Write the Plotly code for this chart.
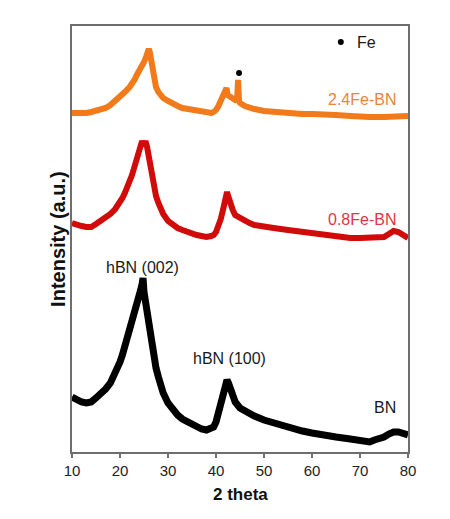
import plotly.graph_objects as go

# 2 theta positions and intensities (a.u., stacked offsets)
x_fe24 = [10, 11, 12, 13, 14, 15, 16, 17, 18, 19, 20, 21, 22, 22.5, 23, 23.5, 24, 24.5, 25, 25.5, 25.8, 26, 26.2,
          26.5, 26.8, 27, 27.5, 28, 29, 30, 31, 32, 33, 34, 35, 36, 37, 38, 39, 39.5, 40, 40.5, 41, 41.5, 42, 42.2,
          42.4, 43, 43.5, 44, 44.4, 44.6, 44.8, 45, 46, 47, 48, 50, 52, 55, 58, 60, 62, 65, 68, 70, 72, 75, 77, 78, 80]
y_fe24 = [339, 339, 338, 339, 340, 341, 342, 344, 347, 351, 356, 360, 365, 368, 372, 377, 381, 386, 390, 396, 401, 403, 400,
          390, 380, 373, 365, 360, 354, 351, 348, 346, 344, 343, 342, 341, 340, 339, 339, 340, 342, 346, 351, 354, 359, 364,
          357, 355, 353, 352, 353, 372, 351, 349, 346, 344, 343, 341, 340, 339, 338, 338, 337, 337, 336, 335, 335, 335, 336, 335, 336]

x_fe08 = [10, 11, 12, 13, 14, 15, 16, 17, 18, 19, 20, 20.5, 21, 21.5, 22, 22.5, 23, 23.5, 24, 24.3, 24.6, 25, 25.3,
          25.6, 26, 26.5, 27, 27.5, 28, 29, 30, 31, 32, 33, 34, 35, 36, 37, 38, 39, 39.5, 40, 40.5, 41, 41.5, 42, 42.3,
          42.6, 43, 43.5, 44, 45, 46, 47, 48, 50, 52, 55, 58, 60, 62, 65, 68, 70, 72, 74, 75, 76, 77, 78, 79, 80]
y_fe08 = [229, 227, 226, 225, 225, 228, 231, 234, 238, 243, 249, 254, 259, 264, 270, 277, 285, 293, 301, 307, 311, 306, 311,
          306, 294, 279, 266, 256, 249, 238, 231, 227, 224, 222, 220, 219, 217, 216, 215, 216, 217, 220, 225, 233, 243, 253, 260,
          255, 248, 242, 237, 234, 231, 229, 227, 225, 224, 222, 220, 219, 217, 215, 214, 214, 214, 214, 215, 218, 221, 220, 217, 214]

x_bn = [10, 11, 12, 13, 14, 15, 16, 17, 18, 19, 20, 20.5, 21, 21.5, 22, 22.5, 23, 23.5, 24, 24.3, 24.6, 24.8, 25,
        25.5, 26, 26.5, 27, 27.5, 28, 28.5, 29, 30, 31, 32, 33, 34, 35, 36, 37, 38, 39, 39.5, 40, 40.5, 41, 41.5, 42,
        42.3, 42.6, 43, 43.5, 44, 45, 46, 47, 48, 50, 52, 55, 58, 60, 62, 65, 68, 70, 72, 73, 74, 75, 76, 77, 78, 79, 80]
y_bn = [55, 52, 50, 49, 50, 54, 58, 63, 69, 78, 90, 97, 105, 112, 120, 130, 139, 149, 158, 162, 168, 174, 160,
        144, 127, 110, 95, 84, 75, 66, 59, 49, 42, 37, 33, 30, 27, 25, 23, 22, 23, 25, 30, 38, 48, 58, 67,
        72, 69, 64, 56, 50, 44, 41, 38, 36, 32, 29, 24, 21, 19, 17, 15, 13, 12, 10, 12, 13, 15, 18, 20, 20, 18, 17]

x_ticks = [10, 20, 30, 40, 50, 60, 70, 80]

FONT = "Arial, Liberation Sans, sans-serif"

fig = go.Figure()
fig.add_trace(go.Scatter(x=x_fe24, y=y_fe24, mode="lines", line=dict(color="#f27a1a", width=6), name="2.4Fe-BN"))
fig.add_trace(go.Scatter(x=x_fe08, y=y_fe08, mode="lines", line=dict(color="#d10a0a", width=6), name="0.8Fe-BN"))
fig.add_trace(go.Scatter(x=x_bn, y=y_bn, mode="lines", line=dict(color="#000000", width=7), name="BN"))
# Fe markers
fig.add_trace(go.Scatter(x=[44.8, 66.0], y=[379, 410], mode="markers",
                         marker=dict(color="black", size=6), showlegend=False))

ann = [
    dict(text="2.4Fe-BN", x=77.9, y=353, xanchor="right", color="#e8843c"),
    dict(text="0.8Fe-BN", x=77.9, y=233, xanchor="right", color="#e23446"),
    dict(text="BN", x=77.9, y=45, xanchor="right", color="#1a1a1a"),
    dict(text="hBN (002)", x=24.6, y=185, xanchor="center", color="#1a1a1a"),
    dict(text="hBN (100)", x=42.8, y=94, xanchor="center", color="#1a1a1a"),
    dict(text="Fe", x=68.9, y=410, xanchor="left", color="#1a1a1a"),
]
annotations = []
for a in ann:
    annotations.append(dict(text=a["text"], x=a["x"], y=a["y"], xref="x", yref="y",
                            xanchor=a["xanchor"], yanchor="middle", showarrow=False,
                            font=dict(family=FONT, size=16, color=a["color"])))
annotations.append(dict(text="<b>Intensity (a.u.)</b>", x=-0.042, y=0.5, xref="paper", yref="paper",
                        xanchor="center", yanchor="middle", textangle=-90, showarrow=False,
                        font=dict(family=FONT, size=20, color="#111111")))
annotations.append(dict(text="<b>2 theta</b>", x=0.5, y=-0.099, xref="paper", yref="paper",
                        xanchor="center", yanchor="middle", showarrow=False,
                        font=dict(family=FONT, size=17, color="#111111")))

# page body adds an 8 px offset at top/left; compensate in size and margins
fig.update_layout(
    width=442, height=511,
    margin=dict(l=64, r=42, t=18, b=67),
    paper_bgcolor="white", plot_bgcolor="white",
    showlegend=False,
    annotations=annotations,
    xaxis=dict(range=[10, 80], tickvals=x_ticks, ticks="outside", ticklen=4, tickwidth=1.5,
               tickcolor="#6e6e6e", showline=True, linecolor="#6e6e6e", linewidth=1.5, mirror=True,
               showgrid=False, zeroline=False,
               tickfont=dict(family=FONT, size=15, color="#222222")),
    yaxis=dict(range=[0, 426], showticklabels=False, ticks="", showline=True, linecolor="#6e6e6e",
               linewidth=1.5, mirror=True, showgrid=False, zeroline=False),
)

fig.write_html("out.html")
